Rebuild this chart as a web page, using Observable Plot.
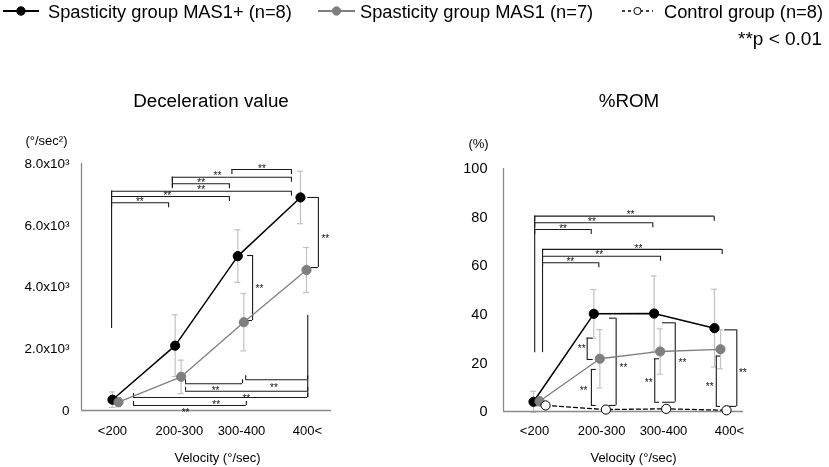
<!DOCTYPE html>
<html>
<head>
<meta charset="utf-8">
<script src="https://cdn.jsdelivr.net/npm/d3@7"></script>
<script src="https://cdn.jsdelivr.net/npm/@observablehq/plot@0.6"></script>
<style>
html,body{margin:0;padding:0;background:#fff;}
#root{position:relative;width:829px;height:467px;overflow:hidden;font-family:"Liberation Sans",Arial,sans-serif;color:#000;}
#root > svg, #root > div{position:absolute;will-change:transform;}
</style>
</head>
<body>
<div id="root"></div>
<script>
// ---------------- data ----------------
const categories = ["<200", "200-300", "300-400", "400<"];
const groupNames = ["Spasticity group MAS1+ (n=8)", "Spasticity group MAS1 (n=7)", "Control group (n=8)"];
const panelTitles = ["Deceleration value", "%ROM"];
const xTitle = "Velocity (°/sec)";
const decelUnit = "(°/sec²)";
const romUnit = "(%)";
const sigNote = "**p < 0.01";
const sigLabel = "**";

const decelMAS1plus   = [350, 2100, 5000, 6900];
const decelMAS1plusSD = [250, 1000, 850, 850];
const decelMAS1       = [270, 1090, 2860, 4550];
const decelMAS1SD     = [150, 540, 930, 730];

const romMAS1plus   = [4.0, 40.2, 40.3, 34.3];
const romMAS1plusSD = [4.3, 10, 15.5, 16];
const romMAS1       = [4.2, 21.7, 24.7, 25.6];
const romMAS1SD     = [2.0, 12, 9.3, 8];
const romControl    = [2.5, 0.8, 1.1, 0.5];
const romControlSD  = [0.6, 0.4, 0.5, 0.3];

const decelTicks = [0, 2000, 4000, 6000, 8000];
const decelTickLabels = ["0", "2.0x10³", "4.0x10³", "6.0x10³", "8.0x10³"];
const romTicks = [0, 20, 40, 60, 80, 100];
const romTickLabels = ["0", "20", "40", "60", "80", "100"];

// significance brackets (category index units, value units)
const decelTopBrackets = [
  {x1: -0.11, x2: 0.80, y: 6727, lx: 0.34},
  {x1: -0.11, x2: 1.77, y: 6931, lx: 0.78},
  {x1: -0.11, x2: 2.76, y: 7103, lx: 1.32},
  {x1: 0.86,  x2: 1.77, y: 7342, lx: 1.32},
  {x1: 0.86,  x2: 2.76, y: 7556, lx: 1.58},
  {x1: 1.81,  x2: 2.76, y: 7806, lx: 2.29}
];
const decelBottomBrackets = [
  {x1: 1.07, x2: 1.98, y: 865, lx: 1.55},
  {x1: 2.03, x2: 3.02, y: 994, lx: 2.48},
  {x1: 1.07, x2: 3.02, y: 625, lx: 2.04},
  {x1: 0.24, x2: 3.02, y: 421, lx: 1.56},
  {x1: 0.24, x2: 2.04, y: 162, lx: 1.07}
];
const decelLegs = [
  {x: -0.11, y1: 7103, y2: 2656},
  {x: 0.86,  y1: 7556, y2: 7220},
  {x: 3.02,  y1: 421,  y2: 3077}
];
const decelSideBrackets = [
  {x: 3.19, x2: 3.02, y1: 6900, y2: 4630, lx: 3.30, ly: 5640},
  {x: 2.14, x2: 2.06, y1: 5020, y2: 2915, lx: 2.25, ly: 4016}
];

const romTopBrackets = [
  {x1: -0.08, x2: 0.857, y: 74.9, lx: 0.39},
  {x1: -0.08, x2: 1.878, y: 77.7, lx: 0.87},
  {x1: -0.08, x2: 2.896, y: 80.4, lx: 1.51},
  {x1: 0.05,  x2: 0.983, y: 61.2, lx: 0.51},
  {x1: 0.05,  x2: 2.006, y: 63.9, lx: 0.99},
  {x1: 0.05,  x2: 3.028, y: 66.7, lx: 1.64}
];
const romLegs = [
  {x: -0.08, y1: 80.4, y2: 24.2},
  {x: 0.05,  y1: 66.7, y2: 24.2}
];
const romSideBrackets = [
  {x: 0.79, x2: 0.89, y1: 30.2, y2: 21.4, lx: 0.70, ly: 26.7},
  {x: 0.86, x2: 0.94, y1: 17.3, y2: 2.5,  lx: 0.73, ly: 9.6},
  {x: 1.27, x2: 1.16, y1: 38.4, y2: 2.5,  lx: 1.39, ly: 19.2},
  {x: 1.91, x2: 1.99, y1: 21.7, y2: 3.8,  lx: 1.81, ly: 12.8},
  {x: 2.25, x2: 2.04, y1: 36.5, y2: 3.8,  lx: 2.37, ly: 21.0},
  {x: 2.93, x2: 3.00, y1: 22.8, y2: 2.1,  lx: 2.82, ly: 11.4},
  {x: 3.27, x2: 3.07, y1: 33.6, y2: 2.1,  lx: 3.37, ly: 16.9}
];

// ---------------- drawing ----------------
const FONT = "'Liberation Sans', Arial, Helvetica, sans-serif";
const INK = "#1a1a1a";
const AXIS = "#8a8a8a";
const EB = "#c2c2c2";
const GRAY = "#7f7f7f";

function panel(c) {
  const fh = c.height - c.marginTop - c.marginBottom;
  const u = (c.yDomain[1] - c.yDomain[0]) / fh;
  const rows = c.series.flatMap(s => s.values.map((v, i) => ({key: s.key, x: i + s.offset, y: v, sd: s.sd[i]})));
  const cap = c.cap;
  const hTicks = [
    ...c.topBrackets.flatMap(b => [{x: b.x1, y1: b.y, y2: b.y - 5 * u}, {x: b.x2, y1: b.y, y2: b.y - 5 * u}]),
    ...c.bottomBrackets.flatMap(b => [{x: b.x1, y1: b.y, y2: b.y + 4 * u}, {x: b.x2, y1: b.y, y2: b.y + 4 * u}])
  ];
  const sideEnds = c.sideBrackets.flatMap(b => [{y: b.y1, x1: b.x, x2: b.x2}, {y: b.y2, x1: b.x, x2: b.x2}]);
  const marks = [
    Plot.ruleX(rows, {x: "x", y1: d => d.y - d.sd, y2: d => d.y + d.sd, stroke: EB, strokeWidth: 1.2}),
    Plot.ruleY(rows, {y: d => d.y + d.sd, x1: d => d.x - cap, x2: d => d.x + cap, stroke: EB, strokeWidth: 1.2}),
    Plot.ruleY(rows, {y: d => d.y - d.sd, x1: d => d.x - cap, x2: d => d.x + cap, stroke: EB, strokeWidth: 1.2}),
    Plot.ruleY([c.yDomain[0]], {x1: c.xDomain[0], x2: c.xDomain[1], stroke: AXIS, strokeWidth: 1.3}),
    Plot.ruleX([c.xDomain[0]], {y1: c.yDomain[0], y2: c.yDomain[1], stroke: AXIS, strokeWidth: 1.3}),
    Plot.axisY({ticks: c.yTicks, tickFormat: d => c.yLabels[c.yTicks.indexOf(d)], tickSize: 0, tickPadding: c.tickPadding, fontSize: c.yFontSize, label: null}),
    Plot.text(categories, {x: (d, i) => i + c.labelNudge[i], y: c.yDomain[0], dy: c.catDy, fontSize: 13, lineAnchor: "middle"}),
    Plot.text([xTitle], {frameAnchor: "bottom", dx: c.xTitleDx, dy: c.xTitleDy, fontSize: 13, lineAnchor: "middle"}),
    Plot.text([c.unit], {frameAnchor: "top-left", dx: c.unitDx, dy: c.unitDy, fontSize: 13, textAnchor: "middle", lineAnchor: "middle"}),
    Plot.ruleY([...c.topBrackets, ...c.bottomBrackets], {y: "y", x1: "x1", x2: "x2", stroke: INK, strokeWidth: 1.1}),
    Plot.ruleX(hTicks, {x: "x", y1: "y1", y2: "y2", stroke: INK, strokeWidth: 1.1}),
    Plot.ruleX(c.legs, {x: "x", y1: "y1", y2: "y2", stroke: INK, strokeWidth: 1.1}),
    Plot.ruleX(c.sideBrackets, {x: "x", y1: "y1", y2: "y2", stroke: INK, strokeWidth: 1.1}),
    Plot.ruleY(sideEnds, {y: "y", x1: "x1", x2: "x2", stroke: INK, strokeWidth: 1.1}),
    Plot.text(c.topBrackets, {x: "lx", y: "y", text: () => sigLabel, dy: -1, fontSize: 10, fill: "#111"}),
    Plot.text(c.bottomBrackets, {x: "lx", y: "y", text: () => sigLabel, dy: 7.5, fontSize: 10, fill: "#111"}),
    Plot.text(c.sideBrackets, {x: "lx", y: "ly", text: () => sigLabel, dy: 2.5, fontSize: 10, fill: "#111"}),
    ...c.series.map(s => Plot.line(rows.filter(r => r.key === s.key), {x: "x", y: "y", stroke: s.line, strokeWidth: s.lw, strokeDasharray: s.dash})),
    ...c.series.map(s => Plot.dot(rows.filter(r => r.key === s.key), {x: "x", y: "y", r: s.r, fill: s.fill, stroke: s.stroke, strokeWidth: 1}))
  ];
  const svg = Plot.plot({
    width: c.width, height: c.height,
    marginLeft: c.marginLeft, marginRight: c.marginRight, marginTop: c.marginTop, marginBottom: c.marginBottom,
    x: {domain: c.xDomain, axis: null},
    y: {domain: c.yDomain, label: null},
    style: {fontFamily: FONT, background: "transparent", overflow: "visible", color: "#000"},
    marks
  });
  svg.style.left = c.left + "px";
  svg.style.top = c.top + "px";
  return svg;
}

const root = document.getElementById("root");

root.appendChild(panel({
  left: 0, top: 120, width: 415, height: 347,
  marginLeft: 81, marginRight: 84, marginTop: 43, marginBottom: 57,
  xDomain: [-0.59, 3.399], yDomain: [0, 8000],
  yTicks: decelTicks, yLabels: decelTickLabels, tickPadding: 12, yFontSize: 13.5,
  labelNudge: [-0.096, -0.027, -0.037, 0.016], catDy: 20,
  xTitleDx: 11, xTitleDy: 47,
  unit: decelUnit, unitDx: -35, unitDy: -23,
  cap: 0.048,
  topBrackets: decelTopBrackets, bottomBrackets: decelBottomBrackets, legs: decelLegs, sideBrackets: decelSideBrackets,
  series: [
    {key: "plus", values: decelMAS1plus, sd: decelMAS1plusSD, offset: -0.096, line: "#000", lw: 1.5, r: 4.6, fill: "#000", stroke: "#000"},
    {key: "mas1", values: decelMAS1, sd: decelMAS1SD, offset: 0, line: GRAY, lw: 1.3, r: 4.6, fill: GRAY, stroke: GRAY}
  ]
}));

root.appendChild(panel({
  left: 415, top: 120, width: 414, height: 347,
  marginLeft: 88, marginRight: 86, marginTop: 48, marginBottom: 56,
  xDomain: [-0.597, 3.381], yDomain: [0, 100],
  yTicks: romTicks, yLabels: romTickLabels, tickPadding: 16, yFontSize: 14.5,
  labelNudge: [-0.083, 0.028, 0.055, 0.149], catDy: 19,
  xTitleDx: 10, xTitleDy: 46,
  unit: romUnit, unitDx: -25, unitDy: -25,
  cap: 0.05,
  topBrackets: romTopBrackets, bottomBrackets: [], legs: romLegs, sideBrackets: romSideBrackets,
  series: [
    {key: "plus", values: romMAS1plus, sd: romMAS1plusSD, offset: -0.1, line: "#000", lw: 1.5, r: 4.6, fill: "#000", stroke: "#000"},
    {key: "mas1", values: romMAS1, sd: romMAS1SD, offset: 0, line: GRAY, lw: 1.3, r: 4.6, fill: GRAY, stroke: GRAY},
    {key: "ctrl", values: romControl, sd: romControlSD, offset: 0.1, line: "#000", lw: 1.3, r: 4.6, fill: "#fff", stroke: "#000", dash: "4,3"}
  ]
}));

// ---------------- legend, note and titles (overlay) ----------------
const ov = d3.select(root).append("svg")
  .attr("width", 829).attr("height", 467)
  .style("left", "0px").style("top", "0px").style("pointer-events", "none")
  .style("font-family", FONT);

const legendItems = [
  {name: groupNames[0], x0: 3, x1: 39, tx: 48, line: "#000", lw: 2.2, fill: "#000", stroke: "#000", r: 4.2},
  {name: groupNames[1], x0: 318, x1: 355, tx: 360, line: GRAY, lw: 2.2, fill: GRAY, stroke: GRAY, r: 4.2},
  {name: groupNames[2], x0: 622, x1: 653, tx: 664, line: "#000", lw: 1.3, fill: "#fff", stroke: "#000", r: 3.6, dash: "3,3"}
];
legendItems.forEach(it => {
  ov.append("line").attr("x1", it.x0).attr("x2", it.x1).attr("y1", 11).attr("y2", 11)
    .attr("stroke", it.line).attr("stroke-width", it.lw).attr("stroke-dasharray", it.dash || null);
  ov.append("circle").attr("cx", (it.x0 + it.x1) / 2).attr("cy", 11).attr("r", it.r)
    .attr("fill", it.fill).attr("stroke", it.stroke).attr("stroke-width", 1);
  ov.append("text").attr("x", it.tx).attr("y", 17.5).attr("font-size", 18.3).text(it.name);
});
ov.append("text").attr("x", 822).attr("y", 45).attr("text-anchor", "end").attr("font-size", 19).text(sigNote);
ov.append("text").attr("x", 211).attr("y", 107).attr("text-anchor", "middle").attr("font-size", 18.8).text(panelTitles[0]);
ov.append("text").attr("x", 629).attr("y", 107).attr("text-anchor", "middle").attr("font-size", 18.8).text(panelTitles[1]);
</script>
</body>
</html>
